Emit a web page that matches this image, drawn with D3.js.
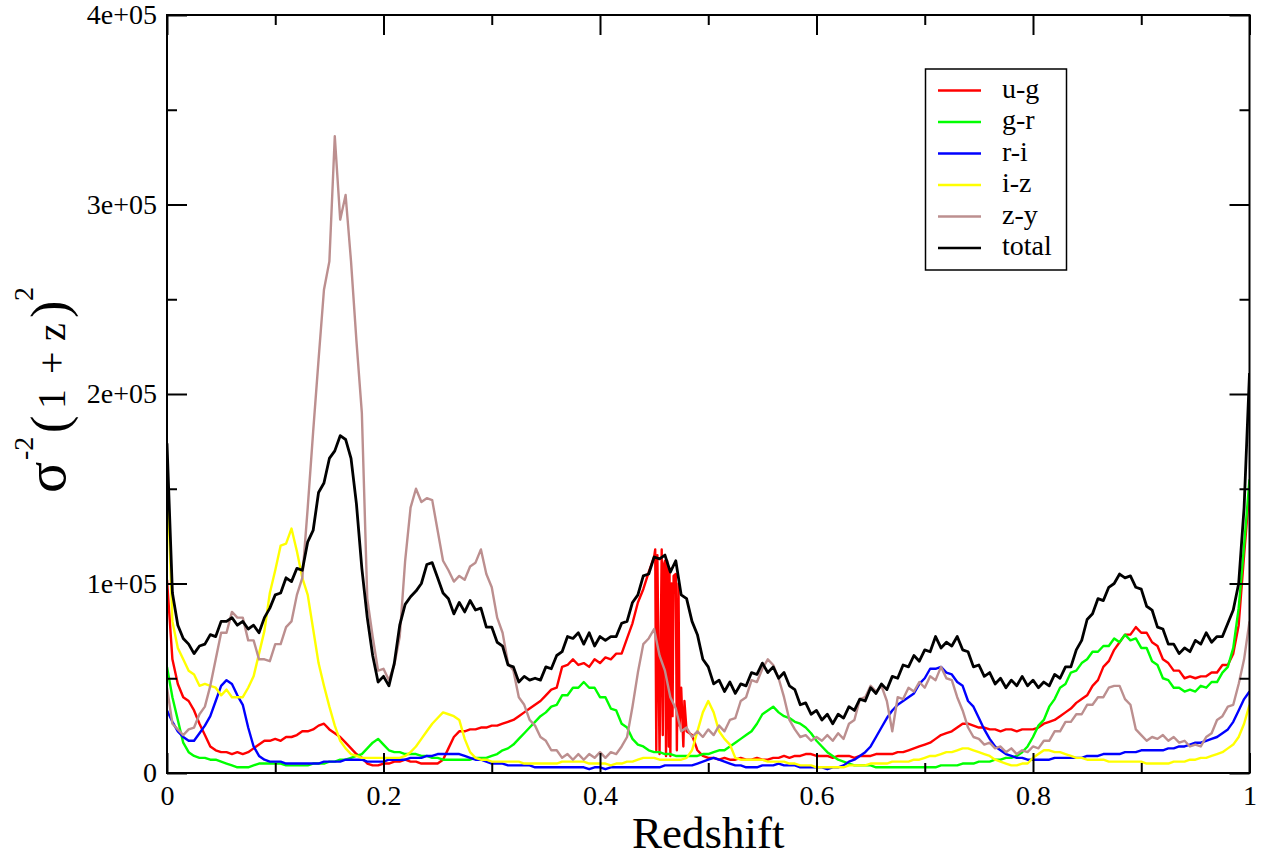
<!DOCTYPE html>
<html>
<head>
<meta charset="utf-8">
<script src="https://cdn.jsdelivr.net/npm/d3@7"></script>
<style>
body { margin: 0; background: #fff; }
</style>
</head>
<body>
<div id="chart"></div>
<script>
// redshift grid, one sample every 0.005
var redshift = d3.range(201).map(function (i) { return i / 200; });

// values in units of 1e3 (wiggles included)
var ugValues = [
    102, 60, 47, 40, 38, 33, 26, 20, 14, 12,
    11, 11, 10, 11, 10, 11, 13, 15, 17, 17,
    18, 17, 19, 19, 20, 22, 22, 23, 25, 26,
    23, 21, 19, 16, 13, 10, 8, 5, 4, 4,
    5, 5, 6, 6, 7, 6, 6, 5, 5, 5,
    5, 7, 13, 19, 22, 22, 23, 23, 24, 24,
    25, 25, 26, 27, 28, 30, 32, 34, 36, 38,
    41, 44, 45, 56, 57, 60, 57, 58, 56, 60,
    58, 61, 60, 63, 63, 71, 79, 90, 97, 106,
    114, 10, 112, 9, 105, 45, 22, 20, 12, 9,
    8, 8, 7, 8, 7, 7, 8, 7, 7, 8,
    7, 7, 8, 8, 9, 8, 9, 9, 10, 10,
    9, 9, 9, 8, 9, 9, 9, 8, 9, 9,
    9, 10, 10, 10, 10, 11, 11, 12, 13, 14,
    15, 16, 18, 20, 21, 22, 24, 26, 26, 25,
    24, 24, 23, 23, 22, 23, 23, 22, 23, 23,
    23, 24, 26, 27, 28, 30, 32, 34, 37, 39,
    41, 46, 49, 56, 59, 65, 69, 73, 73, 77,
    74, 74, 69, 67, 60, 58, 54, 54, 50, 51,
    50, 51, 51, 53, 53, 57, 57, 63, 78, 115,
    150];
// the u-g burst near z = 0.46 (extra samples between grid points)
var ugBurst = [[0.451, 118], [0.452, 12], [0.453, 115], [0.457, 118], [0.458, 20],
    [0.459, 110], [0.461, 9], [0.462, 112], [0.4635, 14], [0.4642, 108], [0.466, 100],
    [0.467, 30], [0.468, 104], [0.471, 12], [0.4725, 100], [0.4735, 25], [0.477, 14],
    [0.478, 38]];
var grValues = [
    56, 40, 28, 16, 11, 9, 8, 8, 7, 7,
    6, 5, 4, 3, 3, 3, 4, 5, 5, 5,
    5, 5, 4, 4, 4, 4, 4, 5, 5, 5,
    6, 6, 7, 7, 8, 9, 10, 13, 16, 18,
    15, 12, 11, 11, 10, 10, 10, 9, 9, 8,
    8, 7, 7, 7, 7, 7, 7, 8, 8, 8,
    9, 10, 12, 13, 15, 18, 21, 24, 27, 30,
    32, 35, 36, 41, 41, 45, 45, 48, 45, 45,
    40, 40, 34, 33, 26, 24, 18, 15, 14, 12,
    11, 11, 10, 10, 9, 9, 9, 9, 9, 10,
    10, 11, 12, 12, 14, 16, 18, 20, 22, 26,
    31, 33, 35, 32, 30, 29, 27, 26, 24, 21,
    17, 14, 11, 9, 7, 6, 5, 4, 4, 4,
    4, 3, 3, 3, 3, 3, 3, 3, 3, 3,
    3, 3, 3, 4, 4, 4, 4, 5, 5, 5,
    6, 6, 6, 7, 7, 8, 8, 9, 11, 14,
    19, 25, 28, 35, 39, 45, 47, 53, 54, 58,
    60, 64, 64, 67, 67, 71, 69, 73, 70, 71,
    66, 66, 59, 57, 50, 49, 45, 45, 43, 44,
    43, 46, 45, 48, 48, 53, 56, 66, 87, 120,
    155];
var riValues = [
    33, 27, 22, 19, 17, 17, 21, 25, 30, 38,
    46, 49, 47, 41, 36, 24, 14, 9, 7, 6,
    6, 6, 5, 5, 5, 5, 5, 5, 5, 6,
    6, 6, 6, 7, 7, 7, 7, 6, 6, 6,
    6, 7, 7, 7, 7, 8, 8, 8, 9, 9,
    10, 10, 10, 10, 10, 9, 8, 7, 7, 6,
    5, 5, 5, 4, 4, 4, 4, 4, 3, 3,
    3, 3, 3, 3, 3, 3, 3, 3, 2, 3,
    3, 2, 3, 3, 3, 3, 3, 3, 3, 3,
    3, 3, 4, 4, 4, 4, 4, 4, 5, 6,
    7, 8, 7, 6, 5, 4, 4, 3, 3, 3,
    4, 4, 4, 5, 4, 4, 4, 3, 3, 3,
    3, 3, 2, 3, 3, 4, 6, 7, 9, 11,
    14, 19, 24, 29, 33, 36, 38, 40, 42, 47,
    50, 55, 55, 56, 53, 52, 48, 46, 38, 35,
    29, 23, 18, 14, 12, 10, 9, 8, 8, 7,
    7, 7, 7, 7, 8, 8, 8, 8, 8, 8,
    9, 9, 9, 10, 10, 10, 10, 11, 11, 11,
    12, 12, 12, 12, 12, 13, 13, 14, 14, 15,
    16, 16, 17, 18, 19, 21, 23, 27, 33, 39,
    43];
var izValues = [
    160, 80, 66, 60, 54, 52, 46, 47, 46, 45,
    41, 44, 40, 40, 40, 45, 51, 63, 75, 95,
    107, 120, 121, 129, 117, 103, 94, 76, 58, 46,
    35, 25, 17, 13, 10, 9, 8, 8, 8, 8,
    8, 8, 8, 8, 9, 11, 14, 18, 22, 26,
    29, 32, 31, 30, 28, 18, 11, 8, 7, 7,
    6, 6, 6, 6, 6, 6, 5, 5, 5, 5,
    5, 5, 5, 6, 6, 6, 6, 6, 5, 5,
    5, 5, 4, 5, 5, 6, 6, 7, 8, 8,
    8, 7, 7, 7, 7, 7, 8, 12, 22, 32,
    38, 32, 22, 18, 15, 8, 7, 7, 7, 7,
    7, 6, 6, 6, 6, 5, 5, 4, 4, 4,
    3, 3, 3, 3, 3, 3, 4, 4, 4, 4,
    5, 5, 5, 5, 6, 6, 6, 6, 7, 7,
    8, 9, 9, 10, 11, 11, 12, 13, 13, 12,
    11, 10, 9, 7, 6, 5, 4, 4, 5, 5,
    8, 10, 12, 12, 11, 11, 10, 9, 8, 8,
    7, 7, 7, 7, 6, 6, 6, 6, 6, 6,
    6, 5, 5, 5, 5, 5, 6, 6, 6, 7,
    7, 8, 8, 9, 10, 11, 13, 15, 19, 26,
    36];
var zyValues = [
    45, 26, 23, 20, 23, 24, 31, 35, 46, 60,
    74, 74, 85, 82, 82, 70, 70, 60, 60, 59,
    68, 68, 77, 80, 94, 103, 140, 180, 218, 255,
    270, 336, 292, 305, 270, 228, 190, 92, 72, 54,
    55, 49, 57, 72, 112, 140, 150, 143, 145, 144,
    128, 112, 107, 101, 104, 102, 109, 111, 118, 105,
    98, 82, 74, 58, 54, 40, 36, 28, 25, 19,
    17, 12, 12, 8, 10, 7, 10, 7, 10, 8,
    11, 8, 11, 10, 14, 19, 35, 53, 68, 71,
    76, 62, 54, 40, 34, 22, 24, 19, 22, 19,
    23, 20, 25, 22, 28, 29, 38, 40, 49, 48,
    55, 60, 57, 50, 40, 28, 23, 19, 20, 17,
    19, 17, 20, 17, 21, 18, 26, 28, 39, 40,
    46, 43, 46, 38, 22, 40, 39, 45, 43, 48,
    45, 51, 49, 56, 50, 49, 40, 33, 24, 19,
    18, 15, 16, 13, 14, 11, 13, 10, 12, 11,
    14, 13, 17, 17, 22, 22, 27, 27, 31, 31,
    36, 36, 40, 40, 45, 46, 46, 39, 36, 23,
    20, 17, 19, 18, 20, 17, 19, 16, 17, 14,
    15, 14, 19, 21, 28, 30, 35, 36, 47, 60,
    80];
var totalValues = [
    174, 95, 78, 71, 68, 63, 67, 68, 73, 72,
    80, 80, 82, 78, 80, 76, 78, 74, 82, 87,
    94, 95, 103, 101, 108, 107, 122, 128, 148, 153,
    166, 170, 178, 176, 166, 142, 108, 82, 62, 48,
    51, 46, 58, 78, 89, 93, 96, 100, 110, 111,
    103, 95, 92, 84, 90, 85, 91, 86, 87, 77,
    77, 69, 67, 57, 56, 48, 51, 49, 50, 49,
    56, 55, 62, 64, 72, 71, 74, 68, 74, 67,
    72, 70, 72, 72, 79, 80, 90, 94, 104, 105,
    114, 113, 115, 106, 112, 94, 92, 80, 73, 60,
    56, 47, 49, 43, 48, 42, 47, 46, 53, 52,
    58, 53, 56, 50, 53, 46, 44, 36, 37, 31,
    33, 28, 31, 26, 31, 29, 35, 33, 39, 38,
    45, 42, 47, 44, 51, 50, 57, 56, 62, 59,
    65, 64, 72, 66, 69, 67, 72, 65, 64, 56,
    57, 51, 53, 47, 50, 45, 49, 46, 51, 46,
    49, 45, 48, 46, 52, 50, 56, 56, 65, 70,
    81, 84, 92, 91, 98, 100, 105, 103, 104, 98,
    97, 88, 86, 77, 76, 68, 68, 63, 66, 64,
    70, 68, 74, 69, 72, 72, 79, 86, 100, 140,
    211];

var seriesNames = ["u-g", "g-r", "r-i", "i-z", "z-y", "total"];
var seriesColors = ["#ff0000", "#00ff00", "#0000ff", "#ffff00", "#bc8f8f", "#000000"];
var xTicks = [0, 0.2, 0.4, 0.6, 0.8, 1];
var xTickLabels = ["0", "0.2", "0.4", "0.6", "0.8", "1"];
var xMinorTicks = [0.1, 0.3, 0.5, 0.7, 0.9];
var yTicks = [0, 1e5, 2e5, 3e5, 4e5];
var yTickLabels = ["0", "1e+05", "2e+05", "3e+05", "4e+05"];
var yMinorTicks = [5e4, 15e4, 25e4, 35e4];

var font = "'Liberation Serif', 'Times New Roman', serif";

var svg = d3.select("#chart")
    .append("svg")
    .attr("width", 1270)
    .attr("height", 859);

var x = d3.scaleLinear().domain([0, 1]).range([167, 1249.5]);
var y = d3.scaleLinear().domain([0, 4e5]).range([773, 15]);

function pairs(vals) {
    return redshift.map(function (z, i) { return [z, vals[i]]; });
}
var series = [
    pairs(ugValues).concat(ugBurst).sort(function (a, b) { return a[0] - b[0]; }),
    pairs(grValues),
    pairs(riValues),
    pairs(izValues),
    pairs(zyValues),
    pairs(totalValues)
];

svg.append("clipPath").attr("id", "plotclip")
    .append("rect")
    .attr("x", x(0)).attr("y", y(4e5))
    .attr("width", x(1) - x(0)).attr("height", y(0) - y(4e5));

var line = d3.line()
    .x(function (d) { return x(d[0]); })
    .y(function (d) { return y(d[1] * 1000); });

var lines = svg.append("g").attr("clip-path", "url(#plotclip)");
series.forEach(function (s, k) {
    lines.append("path")
        .datum(s)
        .attr("d", line)
        .attr("fill", "none")
        .attr("stroke", seriesColors[k])
        .attr("stroke-width", k == 5 ? 2.8 : 2.4)
        .attr("stroke-linejoin", "round");
});

// frame
svg.append("rect")
    .attr("x", x(0)).attr("y", y(4e5))
    .attr("width", x(1) - x(0)).attr("height", y(0) - y(4e5))
    .attr("fill", "none")
    .attr("stroke", "#000")
    .attr("stroke-width", 2);

function styleAxis(g) {
    g.select(".domain").remove();
    g.selectAll(".tick line").attr("stroke", "#000").attr("stroke-width", 2);
    g.selectAll("text")
        .attr("font-family", font)
        .attr("font-size", 28)
        .attr("fill", "#000");
}

// bottom
svg.append("g").attr("transform", "translate(0," + y(0) + ")")
    .call(d3.axisBottom(x).tickValues(xTicks).tickSize(-20).tickPadding(12)
        .tickFormat(function (d, i) { return xTickLabels[i]; }))
    .call(styleAxis);
svg.append("g").attr("transform", "translate(0," + y(0) + ")")
    .call(d3.axisBottom(x).tickValues(xMinorTicks).tickSize(-10).tickFormat(""))
    .call(styleAxis);
// top
svg.append("g").attr("transform", "translate(0," + y(4e5) + ")")
    .call(d3.axisTop(x).tickValues(xTicks).tickSize(-20).tickFormat(""))
    .call(styleAxis);
svg.append("g").attr("transform", "translate(0," + y(4e5) + ")")
    .call(d3.axisTop(x).tickValues(xMinorTicks).tickSize(-10).tickFormat(""))
    .call(styleAxis);
// left
svg.append("g").attr("transform", "translate(" + x(0) + ",0)")
    .call(d3.axisLeft(y).tickValues(yTicks).tickSize(-20).tickPadding(10)
        .tickFormat(function (d, i) { return yTickLabels[i]; }))
    .call(styleAxis);
svg.append("g").attr("transform", "translate(" + x(0) + ",0)")
    .call(d3.axisLeft(y).tickValues(yMinorTicks).tickSize(-10).tickFormat(""))
    .call(styleAxis);
// right
svg.append("g").attr("transform", "translate(" + x(1) + ",0)")
    .call(d3.axisRight(y).tickValues(yTicks).tickSize(-20).tickFormat(""))
    .call(styleAxis);
svg.append("g").attr("transform", "translate(" + x(1) + ",0)")
    .call(d3.axisRight(y).tickValues(yMinorTicks).tickSize(-10).tickFormat(""))
    .call(styleAxis);

// axis titles
svg.append("text")
    .attr("x", (x(0) + x(1)) / 2)
    .attr("y", 848)
    .attr("text-anchor", "middle")
    .attr("font-family", font)
    .attr("font-size", 45)
    .text("Redshift");

var ytitle = svg.append("text")
    .attr("transform", "translate(65,493) rotate(-90)")
    .attr("font-family", font)
    .attr("fill", "#000");
ytitle.append("tspan").attr("x", 0).attr("y", 0).attr("font-size", 58).text("σ");
ytitle.append("tspan").attr("x", 33).attr("y", -32).attr("font-size", 28).text("-2");
ytitle.append("tspan").attr("x", 60).attr("y", 2).attr("font-size", 52).text("(");
ytitle.append("tspan").attr("x", 84).attr("y", 0).attr("font-size", 40).text("1");
ytitle.append("tspan").attr("x", 119).attr("y", 0).attr("font-size", 40).text("+");
ytitle.append("tspan").attr("x", 152).attr("y", 0).attr("font-size", 40).text("z");
ytitle.append("tspan").attr("x", 175).attr("y", 2).attr("font-size", 52).text(")");
ytitle.append("tspan").attr("x", 192).attr("y", -32).attr("font-size", 28).text("2");

// legend
svg.append("rect")
    .attr("x", 925.5).attr("y", 69)
    .attr("width", 141).attr("height", 201)
    .attr("fill", "#fff")
    .attr("stroke", "#000")
    .attr("stroke-width", 1.5);
seriesNames.forEach(function (name, k) {
    var ly = 90.5 + k * 31.5;
    svg.append("line")
        .attr("x1", 938).attr("x2", 981)
        .attr("y1", ly).attr("y2", ly)
        .attr("stroke", seriesColors[k])
        .attr("stroke-width", 2.5);
    svg.append("text")
        .attr("x", 1002).attr("y", ly + 7)
        .attr("font-family", font)
        .attr("font-size", 28)
        .text(name);
});
</script>
</body>
</html>
